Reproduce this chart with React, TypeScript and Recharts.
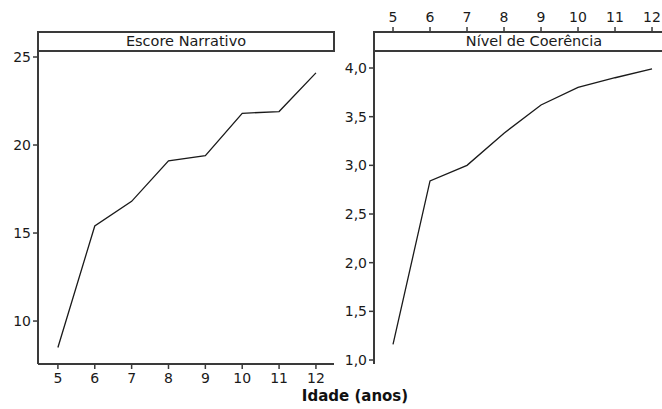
import React from "react";
import { LineChart, Line, XAxis, YAxis } from "recharts";

const ages = [5, 6, 7, 8, 9, 10, 11, 12];
const narrativeScore = [8.5, 15.4, 16.8, 19.1, 19.4, 21.8, 21.9, 24.1];
const coherenceLevel = [1.16, 2.84, 3.0, 3.33, 3.62, 3.8, 3.9, 3.99];

const ageTicks = [5, 6, 7, 8, 9, 10, 11, 12];
const scoreTicks = [10, 15, 20, 25];
const coherenceTicks = [1.0, 1.5, 2.0, 2.5, 3.0, 3.5, 4.0];

const leftTitle = "Escore Narrativo";
const rightTitle = "Nível de Coerência";
const xTitle = "Idade (anos)";

const narrativeData = ages.map((age, i) => ({ age, value: narrativeScore[i] }));
const coherenceData = ages.map((age, i) => ({ age, value: coherenceLevel[i] }));

const ink = "#3a3a3a";
const font = "'DejaVu Sans', Verdana, sans-serif";
const tickStyle = { fill: "#1a1a1a", fontSize: 14, fontFamily: font };
const axisLine = { stroke: ink, strokeWidth: 2 };
const tickLine = { stroke: ink, strokeWidth: 1.5 };

const formatComma = (v: number) => v.toFixed(1).replace(".", ",");

const headerStyle = (left: number, width: number): React.CSSProperties => ({
  position: "absolute",
  left,
  top: 31,
  width,
  height: 21,
  boxSizing: "border-box",
  border: `2px solid ${ink}`,
  background: "#fff",
  textAlign: "center",
  fontSize: 14.5,
  lineHeight: "17px",
  color: "#1a1a1a",
  fontFamily: font,
});

export default function App() {
  return (
    <div
      style={{
        position: "absolute",
        left: 0,
        top: 0,
        width: 662,
        height: 409,
        overflow: "hidden",
        background: "#fff",
        fontFamily: font,
      }}
    >
      <div style={{ position: "absolute", left: 0, top: 0 }}>
        <LineChart
          width={340}
          height={409}
          data={narrativeData}
          margin={{ top: 32, right: 6, bottom: 20, left: 8 }}
        >
          <XAxis
            dataKey="age"
            type="number"
            domain={[4.46, 12.49]}
            ticks={ageTicks}
            allowDataOverflow
            height={25}
            tick={tickStyle}
            tickSize={5}
            tickMargin={4}
            axisLine={axisLine}
            tickLine={tickLine}
          />
          <YAxis
            yAxisId="left"
            type="number"
            domain={[7.56, 26.42]}
            ticks={scoreTicks}
            allowDataOverflow
            width={30}
            tick={tickStyle}
            tickSize={5}
            tickMargin={2}
            axisLine={axisLine}
            tickLine={tickLine}
          />
          <YAxis
            yAxisId="edge"
            orientation="right"
            width={0}
            tick={false}
            tickLine={false}
            axisLine={axisLine}
          />
          <Line
            yAxisId="left"
            dataKey="value"
            type="linear"
            stroke="#1a1a1a"
            strokeWidth={1.3}
            dot={false}
            isAnimationActive={false}
          />
        </LineChart>
      </div>
      <div style={headerStyle(37, 298)}>{leftTitle}</div>

      <div style={{ position: "absolute", left: 330, top: 0 }}>
        <LineChart
          width={345}
          height={409}
          data={coherenceData}
          margin={{ top: 0, right: 5, bottom: 45, left: 8 }}
        >
          <XAxis
            xAxisId="top"
            dataKey="age"
            type="number"
            orientation="top"
            domain={[4.486, 12.486]}
            ticks={ageTicks}
            allowDataOverflow
            height={32}
            tick={tickStyle}
            tickSize={5}
            tickMargin={5}
            axisLine={axisLine}
            tickLine={tickLine}
          />
          <XAxis
            xAxisId="bottom"
            dataKey="age"
            type="number"
            orientation="bottom"
            domain={[4.486, 12.486]}
            allowDataOverflow
            height={0}
            tick={false}
            tickLine={false}
            axisLine={axisLine}
          />
          <YAxis
            type="number"
            domain={[0.959, 4.37]}
            ticks={coherenceTicks}
            allowDataOverflow
            width={36}
            tick={tickStyle}
            tickSize={5}
            tickMargin={2}
            tickFormatter={formatComma}
            axisLine={axisLine}
            tickLine={tickLine}
          />
          <Line
            xAxisId="top"
            dataKey="value"
            type="linear"
            stroke="#1a1a1a"
            strokeWidth={1.3}
            dot={false}
            isAnimationActive={false}
          />
        </LineChart>
      </div>
      <div style={{ ...headerStyle(373, 320), borderRight: "none" }}>{rightTitle}</div>

      <div
        style={{
          position: "absolute",
          left: 0,
          width: 710,
          top: 387,
          textAlign: "center",
          fontSize: 15,
          fontWeight: "bold",
          color: "#111",
          fontFamily: font,
        }}
      >
        {xTitle}
      </div>
    </div>
  );
}
